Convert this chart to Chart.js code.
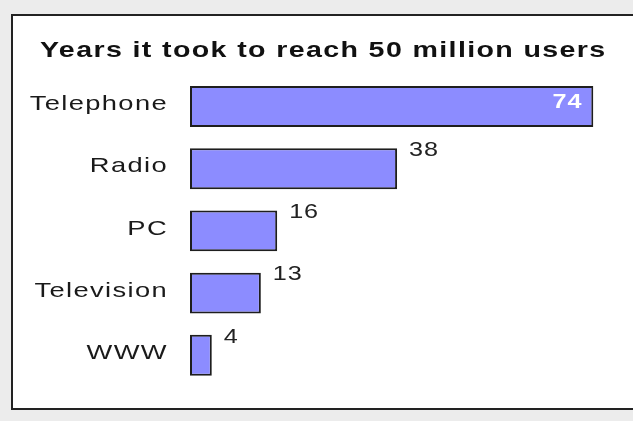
<!DOCTYPE html>
<html>
<head>
<meta charset="utf-8">
<script src="https://cdn.jsdelivr.net/npm/chart.js@4/dist/chart.umd.min.js"></script>
<style>
  html, body { margin: 0; padding: 0; background: #ececec; width: 633px; height: 421px; overflow: hidden; }
  #panel { position: absolute; left: 11px; top: 14px; width: 660px; height: 392px; border: 2px solid #222; background: #fff; }
  #wrap { position: absolute; left: 0; top: 0; width: 633px; height: 421px; }
</style>
</head>
<body>
<div id="panel"></div>
<div id="wrap"><canvas id="c"></canvas></div>
<script>
const titleText = 'Years it took to reach 50 million users';
const categories = ['Telephone', 'Radio', 'PC', 'Television', 'WWW'];
const years = [74, 38, 16, 13, 4];

const FONT = '"Liberation Sans", Arial, sans-serif';

// Wide, low-resolution text look of the original: stretch glyphs horizontally.
const textLook = {
  id: 'textLook',
  beforeInit(chart) {
    const ctx = chart.ctx;
    const orig = ctx.fillText.bind(ctx);
    ctx.__sx = 1;
    ctx.fillText = function (text, x, y, maxWidth) {
      const sx = ctx.__sx || 1;
      ctx.save();
      ctx.translate(x, y);
      ctx.scale(sx, 1);
      if (maxWidth !== undefined) orig(text, 0, 0, maxWidth / sx * 2);
      else orig(text, 0, 0);
      ctx.restore();
    };
  },
  beforeLayout(chart) { chart.ctx.letterSpacing = '0.7px'; },
  afterLayout(chart) { if (chart.titleBlock) chart.titleBlock.left = 40; },
  beforeDraw(chart) { chart.ctx.letterSpacing = '1.05px'; chart.ctx.__sx = 1.3; },
  beforeDatasetsDraw(chart) { chart.ctx.letterSpacing = '0.7px'; chart.ctx.__sx = 1.2; }
};

const valueLabels = {
  id: 'valueLabels',
  afterDatasetsDraw(chart) {
    const ctx = chart.ctx;
    const meta = chart.getDatasetMeta(0);
    const data = chart.data.datasets[0].data;
    const maxV = Math.max(...data);
    ctx.save();
    ctx.textBaseline = 'middle';
    meta.data.forEach((el, i) => {
      const v = data[i];
      const top = el.y - el.height / 2;
      if (v === maxV) {
        ctx.font = 'bold 21px ' + FONT;
        ctx.fillStyle = '#ffffff';
        ctx.textAlign = 'right';
        ctx.fillText(String(v), el.x - 11, el.y - 4);
      } else {
        ctx.font = '21px ' + FONT;
        ctx.fillStyle = '#222222';
        ctx.textAlign = 'left';
        ctx.fillText(String(v), el.x + 12, top + 2);
      }
    });
    ctx.restore();
  }
};

new Chart(document.getElementById('c'), {
  type: 'bar',
  data: {
    labels: categories,
    datasets: [{
      data: years,
      backgroundColor: '#8c8cff',
      borderColor: '#1e1e1e',
      borderWidth: 2,
      borderSkipped: false,
      barPercentage: 0.657,
      categoryPercentage: 1
    }]
  },
  options: {
    indexAxis: 'y',
    responsive: true,
    maintainAspectRatio: false,
    animation: false,
    layout: { padding: { left: 20, right: 7, top: 0, bottom: 26 } },
    plugins: {
      legend: { display: false },
      tooltip: { enabled: false },
      title: {
        display: true,
        text: titleText,
        align: 'start',
        color: '#111',
        font: { family: FONT, size: 22, weight: 'bold', lineHeight: 1.2 },
        padding: { top: 38, bottom: 11 }
      }
    },
    scales: {
      x: { display: false, min: 0, max: 80 },
      y: {
        z: 1,
        grid: { display: false, drawTicks: false },
        border: { display: false },
        ticks: {
          color: '#1a1a1a',
          padding: 22,
          labelOffset: -2,
          font: { family: FONT, size: 21 }
        },
        afterFit(scale) { scale.width = 170; }
      }
    }
  },
  plugins: [textLook, valueLabels]
});
</script>
</body>
</html>
